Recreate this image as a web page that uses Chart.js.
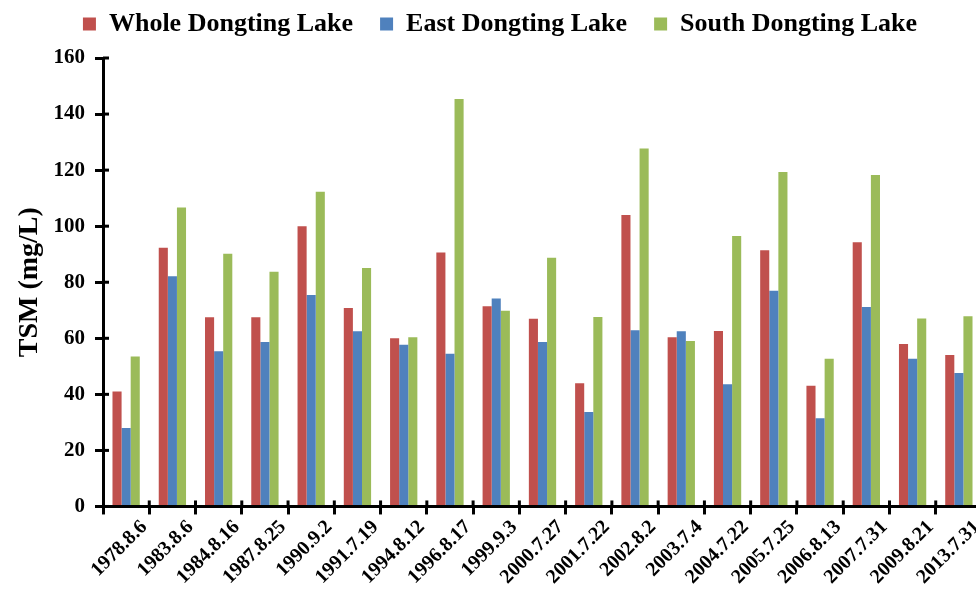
<!DOCTYPE html>
<html>
<head>
<meta charset="utf-8">
<script src="https://cdn.jsdelivr.net/npm/chart.js@4/dist/chart.umd.min.js"></script>
<style>
  html, body { margin: 0; padding: 0; background: #fff; overflow: hidden; }
  #wrap { position: relative; width: 990px; height: 591px; }
</style>
</head>
<body>
<div id="wrap"><canvas id="c"></canvas></div>
<script>
// Sampling dates
const categories = [
  '1978.8.6', '1983.8.6', '1984.8.16', '1987.8.25', '1990.9.2', '1991.7.19',
  '1994.8.12', '1996.8.17', '1999.9.3', '2000.7.27', '2001.7.22', '2002.8.2',
  '2003.7.4', '2004.7.22', '2005.7.25', '2006.8.13', '2007.7.31', '2009.8.21', '2013.7.31'
];

// Total suspended matter, mg/L
const wholeLake = [41, 92.3, 67.5, 67.5, 100, 70.8, 60, 90.6, 71.4, 67, 44, 104, 60.4, 62.6, 91.4, 43.1, 94.3, 58, 54];
const eastLake  = [28, 82.1, 55.4, 58.7, 75.4, 62.5, 57.7, 54.5, 74.2, 58.7, 33.7, 62.9, 62.5, 43.6, 77, 31.5, 71.2, 52.7, 47.6];
const southLake = [53.5, 106.7, 90.2, 83.7, 112.3, 85.1, 60.4, 145.4, 69.8, 88.7, 67.6, 127.7, 59, 96.5, 119.3, 52.7, 118.3, 67.1, 67.9];

const seriesNames = ['Whole Dongting Lake', 'East Dongting Lake', 'South Dongting Lake'];
const yMin = 0, yMax = 160, yStep = 20;

const SERIF = '"Liberation Serif", "Times New Roman", serif';
const COLORS = ['#C0504D', '#4F81BD', '#9BBB59'];

// Legend band height and where its row is drawn
const LEGEND_BAND = 58;
const legendPlacement = {
  id: 'legendPlacement',
  beforeLayout(chart) {
    const lg = chart.legend;
    if (lg && !lg._bandFit) {
      const fit = lg.fit.bind(lg);
      lg.fit = function () { fit(); this.height = LEGEND_BAND; };
      lg._bandFit = true;
    }
  },
  afterLayout(chart) {
    const lg = chart.legend;
    if (!lg) return;
    lg.top -= 16; lg.bottom -= 16;
    lg.left += 9; lg.right += 9;
  }
};

// Short tick stubs on the inner side of both axes
const innerTicks = {
  id: 'innerTicks',
  afterDraw(chart) {
    const { ctx, chartArea, scales: { x, y } } = chart;
    ctx.save();
    ctx.strokeStyle = '#000';
    ctx.lineWidth = 3;
    y.ticks.forEach((t, i) => {
      const py = y.getPixelForTick(i);
      ctx.beginPath();
      ctx.moveTo(chartArea.left, py);
      ctx.lineTo(chartArea.left + 6, py);
      ctx.stroke();
    });
    const half = (x.getPixelForValue(1) - x.getPixelForValue(0)) / 2;
    for (let i = 1; i < categories.length; i++) {
      const px = x.getPixelForValue(i) - half;
      ctx.beginPath();
      ctx.moveTo(px, chartArea.bottom);
      ctx.lineTo(px, chartArea.bottom - 6);
      ctx.stroke();
    }
    ctx.restore();
  }
};

new Chart(document.getElementById('c'), {
  type: 'bar',
  data: {
    labels: categories,
    datasets: [wholeLake, eastLake, southLake].map((d, i) => ({
      label: seriesNames[i],
      data: d,
      backgroundColor: COLORS[i],
      borderWidth: 0,
      barPercentage: 1,
      categoryPercentage: 0.59
    }))
  },
  options: {
    responsive: true,
    maintainAspectRatio: false,
    animation: false,
    layout: { padding: { left: 0, right: 8, top: 0, bottom: 0 } },
    plugins: {
      tooltip: { enabled: false },
      legend: {
        position: 'top',
        align: 'center',
        labels: {
          boxWidth: 13,
          boxHeight: 13,
          padding: 27,
          color: '#000',
          font: { family: SERIF, size: 26, weight: 'bold' }
        }
      }
    },
    scales: {
      x: {
        afterFit(scale) { scale.height += 1; },
        grid: { drawOnChartArea: false, offset: true, color: '#000', lineWidth: 3, tickLength: 8 },
        border: { color: '#000', width: 3 },
        ticks: {
          color: '#000',
          minRotation: 45,
          maxRotation: 45,
          padding: 1,
          labelOffset: 18,
          autoSkip: false,
          font: { family: SERIF, size: 20, weight: 'bold' }
        }
      },
      y: {
        min: yMin,
        max: yMax,
        afterFit(scale) { scale.width = 103; },
        grid: { drawOnChartArea: false, color: '#000', lineWidth: 3, tickLength: 8 },
        border: { color: '#000', width: 3 },
        ticks: {
          stepSize: yStep,
          color: '#000',
          padding: 10,
          font: { family: SERIF, size: 21, weight: 'bold' }
        },
        title: {
          display: true,
          text: 'TSM (mg/L)',
          color: '#000',
          padding: { top: 13, bottom: 0 },
          font: { family: SERIF, size: 28, weight: 'bold' }
        }
      }
    }
  },
  plugins: [legendPlacement, innerTicks]
});
</script>
</body>
</html>
